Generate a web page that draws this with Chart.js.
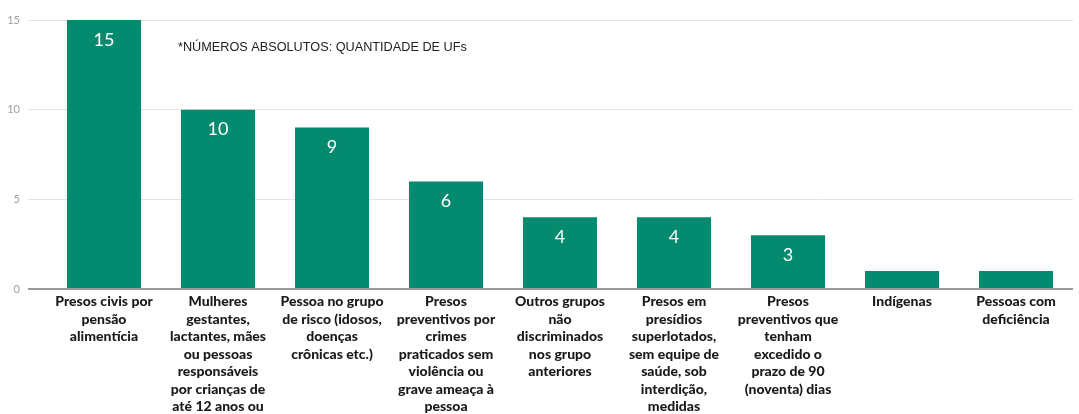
<!DOCTYPE html>
<html>
<head>
<meta charset="utf-8">
<script src="https://cdn.jsdelivr.net/npm/chart.js@4"></script>
<style>
  html, body { margin: 0; padding: 0; background: #fff; overflow: hidden; }
  #wrap { width: 1079px; height: 414px; }
</style>
</head>
<body>
<div id="wrap"><canvas id="ufChart" width="1079" height="414"></canvas></div>
<script>
// Grupos beneficiados e quantidade de UFs
const categories = [
    ['Presos civis por', 'pensão', 'alimentícia'],
    ['Mulheres', 'gestantes,', 'lactantes, mães', 'ou pessoas', 'responsáveis', 'por crianças de', 'até 12 anos ou', 'pessoas com'],
    ['Pessoa no grupo', 'de risco (idosos,', 'doenças', 'crônicas etc.)'],
    ['Presos', 'preventivos por', 'crimes', 'praticados sem', 'violência ou', 'grave ameaça à', 'pessoa'],
    ['Outros grupos', 'não', 'discriminados', 'nos grupo', 'anteriores'],
    ['Presos em', 'presídios', 'superlotados,', 'sem equipe de', 'saúde, sob', 'interdição,', 'medidas', 'cautelares'],
    ['Presos', 'preventivos que', 'tenham', 'excedido o', 'prazo de 90', '(noventa) dias'],
    ['Indígenas'],
    ['Pessoas com', 'deficiência']
];
const ufCounts = [15, 10, 9, 6, 4, 4, 3, 1, 1];
const yTicks = [0, 5, 10, 15];
const note = '*NÚMEROS ABSOLUTOS: QUANTIDADE DE UFs';

// white value labels inside the bars + the note at the top
const barValues = {
    id: 'barValues',
    afterDatasetsDraw(chart) {
        const ctx = chart.ctx;
        const meta = chart.getDatasetMeta(0);
        ctx.save();
        ctx.fillStyle = '#ffffff';
        ctx.font = '18px Lato, "Open Sans", sans-serif';
        ctx.textAlign = 'center';
        ctx.textBaseline = 'middle';
        meta.data.forEach((bar, i) => {
            if (ufCounts[i] < 2) return;
            ctx.fillText(String(ufCounts[i]), bar.x, bar.y + 20);
        });
        ctx.fillStyle = '#222222';
        ctx.font = '12.7px "Liberation Sans", Arial, sans-serif';
        ctx.textAlign = 'left';
        ctx.fillText(note, 178, 47);
        ctx.restore();
    }
};

const ctx = document.getElementById('ufChart').getContext('2d');
new Chart(ctx, {
    type: 'bar',
    data: {
        labels: categories,
        datasets: [{
            data: ufCounts,
            backgroundColor: '#038a6f',
            barPercentage: 0.65,
            categoryPercentage: 1
        }]
    },
    options: {
        responsive: false,
        animation: false,
        layout: { padding: { top: 20, right: 6, left: 0, bottom: 0 } },
        plugins: {
            legend: { display: false },
            tooltip: { enabled: false }
        },
        scales: {
            x: {
                grid: { display: false },
                border: { display: false },
                afterFit(scale) { scale.height = 125; },
                ticks: {
                    color: '#1a1a1a',
                    maxRotation: 0,
                    autoSkip: false,
                    padding: -4,
                    font: { family: 'Lato', weight: 900, size: 14, lineHeight: '17.5px' }
                }
            },
            y: {
                min: 0,
                max: 15,
                afterFit(scale) { scale.width = 47; },
                afterBuildTicks(scale) { scale.ticks = yTicks.map(v => ({ value: v })); },
                border: { display: false },
                grid: {
                    tickLength: 19,
                    color: c => c.tick && c.tick.value === 0 ? '#9a9a9a' : '#e3e3e3',
                    lineWidth: c => c.tick && c.tick.value === 0 ? 2 : 1
                },
                ticks: {
                    color: '#a0a0a0',
                    padding: 8,
                    font: { family: 'Lato', size: 11 }
                }
            }
        }
    },
    plugins: [barValues]
});
</script>
</body>
</html>
